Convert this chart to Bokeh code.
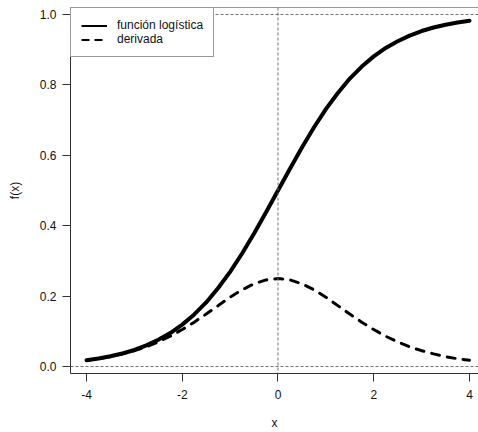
from bokeh.plotting import figure
from bokeh.models import (Range1d, FixedTicker, PrintfTickFormatter, Span, Legend, LegendItem,
                          ColumnDataSource)
from bokeh.embed import file_html
from bokeh.resources import INLINE

# data
x_vals = [-4.0, -3.75, -3.5, -3.25, -3.0, -2.75, -2.5, -2.25, -2.0, -1.75, -1.5, -1.25, -1.0,
          -0.75, -0.5, -0.25, 0.0, 0.25, 0.5, 0.75, 1.0, 1.25, 1.5, 1.75, 2.0, 2.25, 2.5,
          2.75, 3.0, 3.25, 3.5, 3.75, 4.0]
logistic = [0.018, 0.023, 0.029, 0.037, 0.047, 0.060, 0.076, 0.095, 0.119, 0.148, 0.182,
            0.223, 0.269, 0.321, 0.378, 0.438, 0.500, 0.562, 0.622, 0.679, 0.731, 0.777,
            0.818, 0.852, 0.881, 0.905, 0.924, 0.940, 0.953, 0.963, 0.971, 0.977, 0.982]
derivada = [0.018, 0.022, 0.028, 0.036, 0.045, 0.056, 0.070, 0.086, 0.105, 0.126, 0.149,
            0.173, 0.197, 0.218, 0.235, 0.246, 0.250, 0.246, 0.235, 0.218, 0.197, 0.173,
            0.149, 0.126, 0.105, 0.086, 0.070, 0.056, 0.045, 0.036, 0.028, 0.022, 0.018]
x_ticks = [-4, -2, 0, 2, 4]
y_ticks = [0.0, 0.2, 0.4, 0.6, 0.8, 1.0]
ref_h = [0.0, 1.0]
ref_v = [0.0]
labels = ["función logística", "derivada"]
x_title = "x"
y_title = "f(x)"

FONT = "Liberation Sans"
BOX = "#333333"
x0, x1 = -4.334, 4.188
y0, y1 = -0.0198, 1.0198

p = figure(width=478, height=432, output_backend="svg", toolbar_location=None,
           x_range=Range1d(x0, x1), y_range=Range1d(y0, y1),
           min_border_left=70, min_border_right=0, min_border_top=7, min_border_bottom=58)
p.background_fill_color = "white"
p.border_fill_color = "white"
p.outline_line_color = None
p.xgrid.visible = False
p.ygrid.visible = False

for ax in (p.xaxis[0], p.yaxis[0]):
    ax.axis_line_color = BOX
    ax.axis_line_width = 1
    ax.major_tick_line_color = BOX
    ax.major_tick_in = 0
    ax.major_tick_out = 8
    ax.minor_tick_line_color = None
    ax.major_label_text_font = FONT
    ax.major_label_text_font_size = "12px"
    ax.major_label_text_color = "#111111"
    ax.axis_label_text_font = FONT
    ax.axis_label_text_font_size = "12px"
    ax.axis_label_text_font_style = "normal"
    ax.axis_label_text_color = "#111111"

p.xaxis[0].ticker = FixedTicker(ticks=x_ticks)
p.xaxis[0].formatter = PrintfTickFormatter(format="%d")
p.xaxis[0].major_label_standoff = 8
p.xaxis[0].axis_label = x_title
p.xaxis[0].axis_label_standoff = 14

p.yaxis[0].ticker = FixedTicker(ticks=y_ticks)
p.yaxis[0].formatter = PrintfTickFormatter(format="%.1f")
p.yaxis[0].major_label_standoff = 6
p.yaxis[0].axis_label = y_title
p.yaxis[0].axis_label_standoff = 15

# reference lines
for h in ref_h:
    p.add_layout(Span(location=h, dimension="width", line_color="#707070", line_width=1,
                      line_dash="3 2"))
for v in ref_v:
    p.add_layout(Span(location=v, dimension="height", line_color="#707070", line_width=1,
                      line_dash="3 2"))
# top of the box
p.add_layout(Span(location=y1, dimension="width", line_color=BOX, line_width=1))

src = ColumnDataSource(dict(x=x_vals, f=logistic, d=derivada))
p.line("x", "d", source=src, line_color="black", line_width=3, line_dash="8 8",
       line_cap="round")
p.line("x", "f", source=src, line_color="black", line_width=4, line_cap="round")

# legend samples (kept outside the visible ranges)
dummy = ColumnDataSource(dict(x=[-20, -19], y=[-20, -20]))
r1 = p.line("x", "y", source=dummy, line_color="black", line_width=2)
r2 = p.line("x", "y", source=dummy, line_color="black", line_width=2, line_dash="8 5")

legend = Legend(items=[LegendItem(label=labels[0], renderers=[r1]),
                       LegendItem(label=labels[1], renderers=[r2])],
                location="top_left", margin=0, padding=10, spacing=0,
                glyph_width=26, glyph_height=13, label_height=13, label_standoff=10,
                label_text_font=FONT, label_text_font_size="12px", label_text_color="#111111",
                border_line_color=BOX, border_line_width=1,
                background_fill_color="white", background_fill_alpha=1.0)
p.add_layout(legend, "center")

open("out.html", "w").write(file_html(p, INLINE))
